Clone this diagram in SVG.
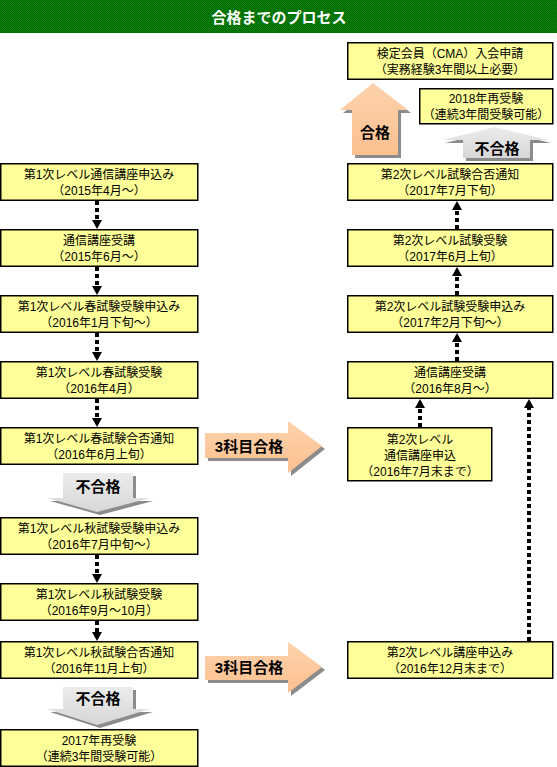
<svg xmlns="http://www.w3.org/2000/svg" width="557" height="767" viewBox="0 0 557 767">
<style>
.box{fill:#ffff99;stroke:#000;stroke-width:1.5}
.t{font-family:"Liberation Sans","Noto Sans CJK JP",sans-serif;font-size:12px;fill:#000;text-anchor:middle;dominant-baseline:central}
.b{font-family:"Liberation Sans","Noto Sans CJK JP",sans-serif;font-size:15px;font-weight:bold;fill:#000;text-anchor:middle;dominant-baseline:central}
.h{font-family:"Noto Sans CJK JP",sans-serif;font-size:15px;font-weight:bold;fill:#fff;text-anchor:middle;dominant-baseline:central}
.c{fill:none;stroke:#000;stroke-width:4;stroke-dasharray:4 3}
.dn{marker-end:url(#ah)}
.sh{fill:#8c8c8c}
.or{fill:url(#og)}
.gr{fill:url(#gg)}
</style>
<defs>
<pattern id="gp" width="2" height="2" patternUnits="userSpaceOnUse">
<rect width="2" height="2" fill="#0b800b"/>
<rect width="1" height="1" fill="#006a00"/>
<rect x="1" y="1" width="1" height="1" fill="#006a00"/>
</pattern>
<linearGradient id="og" x1="0" y1="0" x2="0" y2="1">
<stop offset="0" stop-color="#fdd2ad"/>
<stop offset="1" stop-color="#fbc08f"/>
</linearGradient>
<linearGradient id="gg" x1="0" y1="0" x2="0" y2="1">
<stop offset="0" stop-color="#ececec"/>
<stop offset="1" stop-color="#d6d6d6"/>
</linearGradient>
<marker id="ah" markerUnits="userSpaceOnUse" markerWidth="10" markerHeight="10" refX="0" refY="5" orient="auto" viewBox="0 0 9 10">
<path d="M0,0 L9,5 L0,10 z" fill="#000"/>
</marker>
</defs>

<g id="header">
<rect x="0" y="0" width="557" height="33" fill="url(#gp)"/>
<text class="h" x="279" y="16">合格までのプロセス</text>
</g>

<g id="connectors">
<path class="c dn" d="M97,201 V220"/>
<path class="c dn" d="M97,267 V286"/>
<path class="c dn" d="M97,333 V352"/>
<path class="c dn" d="M97,399 V418"/>
<path class="c dn" d="M97,555 V574"/>
<path class="c dn" d="M97,621 V632"/>
<path class="c dn" d="M457,229 V210"/>
<path class="c dn" d="M457,295 V276"/>
<path class="c dn" d="M457,361 V342"/>
<path class="c dn" d="M420,427 V408"/>
<path class="c dn" d="M529,641 V408"/>
</g>

<g id="n1"><rect class="box" x="0.75" y="163.75" width="197" height="36.5"/><text class="t" x="99" y="175">第1次レベル通信講座申込み</text><text class="t" x="99" y="191">（2015年4月～）</text></g>
<g id="n2"><rect class="box" x="0.75" y="229.75" width="197" height="36.5"/><text class="t" x="99" y="241">通信講座受講</text><text class="t" x="99" y="257">（2015年6月～）</text></g>
<g id="n3"><rect class="box" x="0.75" y="295.75" width="197" height="36.5"/><text class="t" x="99" y="307">第1次レベル春試験受験申込み</text><text class="t" x="99" y="323">（2016年1月下旬～）</text></g>
<g id="n4"><rect class="box" x="0.75" y="361.75" width="197" height="36.5"/><text class="t" x="99" y="373">第1次レベル春試験受験</text><text class="t" x="99" y="389">（2016年4月）</text></g>
<g id="n5"><rect class="box" x="0.75" y="427.75" width="197" height="36.5"/><text class="t" x="99" y="439">第1次レベル春試験合否通知</text><text class="t" x="99" y="455">（2016年6月上旬）</text></g>
<g id="n6"><rect class="box" x="0.75" y="517.75" width="197" height="36.5"/><text class="t" x="99" y="529">第1次レベル秋試験受験申込み</text><text class="t" x="99" y="545">（2016年7月中旬～）</text></g>
<g id="n7"><rect class="box" x="0.75" y="583.75" width="197" height="36.5"/><text class="t" x="99" y="595">第1次レベル秋試験受験</text><text class="t" x="99" y="611">（2016年9月～10月）</text></g>
<g id="n8"><rect class="box" x="0.75" y="641.75" width="197" height="36.5"/><text class="t" x="99" y="653">第1次レベル秋試験合否通知</text><text class="t" x="99" y="669">（2016年11月上旬）</text></g>
<g id="n9"><rect class="box" x="0.75" y="729.75" width="197" height="36.5"/><text class="t" x="99" y="741">2017年再受験</text><text class="t" x="99" y="757">（連続3年間受験可能）</text></g>

<g id="r1"><rect class="box" x="347.75" y="42.75" width="205" height="36.5"/><text class="t" x="450" y="54">検定会員（CMA）入会申請</text><text class="t" x="450" y="70">（実務経験3年間以上必要）</text></g>
<g id="r2"><rect class="box" x="419.75" y="88.75" width="133" height="35"/><text class="t" x="486" y="99">2018年再受験</text><text class="t" x="486" y="115">（連続3年間受験可能）</text></g>
<g id="r3"><rect class="box" x="347.75" y="163.75" width="205" height="36.5"/><text class="t" x="450" y="175">第2次レベル試験合否通知</text><text class="t" x="450" y="191">（2017年7月下旬）</text></g>
<g id="r4"><rect class="box" x="347.75" y="229.75" width="205" height="36.5"/><text class="t" x="450" y="241">第2次レベル試験受験</text><text class="t" x="450" y="257">（2017年6月上旬）</text></g>
<g id="r5"><rect class="box" x="347.75" y="295.75" width="205" height="36.5"/><text class="t" x="450" y="307">第2次レベル試験受験申込み</text><text class="t" x="450" y="323">（2017年2月下旬～）</text></g>
<g id="r6"><rect class="box" x="347.75" y="361.75" width="205" height="36.5"/><text class="t" x="450" y="373">通信講座受講</text><text class="t" x="450" y="389">（2016年8月～）</text></g>
<g id="r7"><rect class="box" x="347.75" y="427.75" width="144" height="53"/><text class="t" x="420" y="440">第2次レベル</text><text class="t" x="420" y="456">通信講座申込</text><text class="t" x="420" y="472">（2016年7月末まで）</text></g>
<g id="r8"><rect class="box" x="347.75" y="641.75" width="205" height="36.5"/><text class="t" x="450" y="653">第2次レベル講座申込み</text><text class="t" x="450" y="669">（2016年12月末まで）</text></g>

<g id="pass-up">
<path class="sh" d="M376,86 L411,113 L401,113 L401,158 L355,158 L355,113 L343,113 z"/>
<path class="or" d="M373,83 L408,110 L398,110 L398,155 L352,155 L352,110 L340,110 z"/>
<text class="b" x="375" y="132">合格</text>
</g>

<g id="fail-up">
<path class="sh" d="M498,130 L551,143 L533,143 L533,161 L466,161 L466,143 L445,143 z"/>
<path class="gr" d="M495,127 L548,140 L530,140 L530,158 L463,158 L463,140 L442,140 z"/>
<text class="b" x="497" y="148">不合格</text>
</g>

<g id="pass3-1">
<path class="sh" d="M208,436 L291,436 L291,424 L325,449 L291,476 L291,461 L208,461 z"/>
<path class="or" d="M205,433 L288,433 L288,421 L322,446 L288,473 L288,458 L205,458 z"/>
<text class="b" x="249" y="446">3科目合格</text>
</g>

<g id="pass3-2">
<path class="sh" d="M208,659 L291,659 L291,645 L325,670 L291,696 L291,683 L208,683 z"/>
<path class="or" d="M205,656 L288,656 L288,642 L322,667 L288,693 L288,680 L205,680 z"/>
<text class="b" x="249" y="667">3科目合格</text>
</g>

<g id="fail-down-1">
<path class="sh" d="M66,476 L136,476 L136,501 L153,501 L100,515 L50,501 L66,501 z"/>
<path class="gr" d="M63,473 L133,473 L133,498 L150,498 L97,512 L47,498 L63,498 z"/>
<text class="b" x="98" y="486">不合格</text>
</g>

<g id="fail-down-2">
<path class="sh" d="M66,690 L136,690 L136,712 L153,712 L100,728 L50,712 L66,712 z"/>
<path class="gr" d="M63,687 L133,687 L133,709 L150,709 L97,725 L47,709 L63,709 z"/>
<text class="b" x="98" y="698">不合格</text>
</g>
</svg>
